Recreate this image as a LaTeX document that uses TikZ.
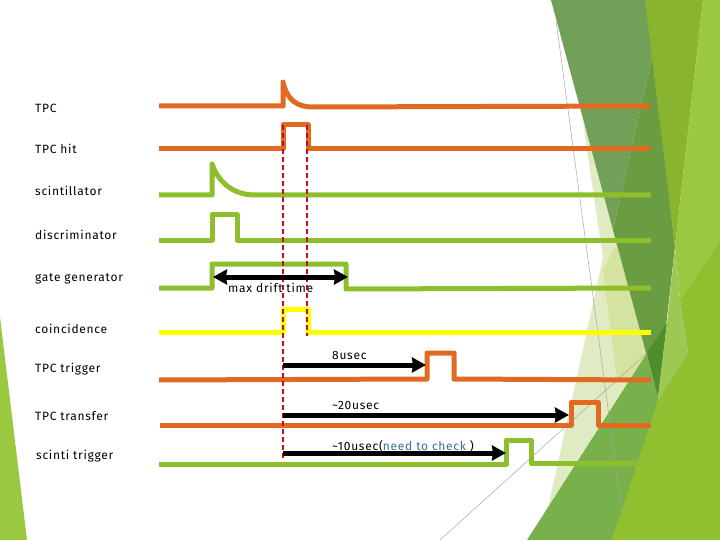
\documentclass[tikz,border=0pt]{standalone}
\usepackage{fontspec}
\setmainfont[LetterSpace=6]{Fira Sans}
\usetikzlibrary{positioning,arrows.meta,calc}
\definecolor{sigorange}{RGB}{226,106,32}
\definecolor{siggreen}{RGB}{142,190,44}
\definecolor{sigyellow}{RGB}{255,255,0}
\definecolor{cutred}{RGB}{192,16,32}
\definecolor{notblue}{RGB}{50,115,150}
\definecolor{bgdark}{RGB}{106,156,66}
\definecolor{bgtop}{RGB}{114,160,88}
\definecolor{bgwedge}{RGB}{136,180,48}
\definecolor{bglight}{RGB}{154,200,64}
\definecolor{bgband}{RGB}{156,200,84}
\definecolor{bgbright}{RGB}{144,192,48}
\definecolor{bgmid}{RGB}{120,176,76}
\definecolor{bgdeep}{RGB}{78,142,44}
\definecolor{bgpale}{RGB}{224,235,196}
\definecolor{bgpaler}{RGB}{212,228,160}
\tikzset{
  siglabel/.style={anchor=west, inner sep=0pt, font=\fontsize{12}{14}\selectfont},
  arrowlabel/.style={anchor=west, inner sep=0pt, font=\fontsize{12}{14}\selectfont},
  signal/.style={line width=5pt, line join=round},
  tpcsig/.style={signal, sigorange},
  scisig/.style={signal, siggreen},
  coinsig/.style={signal, sigyellow},
  cutline/.style={cutred, line width=1.8pt, dash pattern=on 5pt off 3pt},
  timearrow/.style={-{Stealth[length=14pt,width=15pt,inset=1pt]}, line width=5pt, black},
  gridline/.style={black!35, line width=0.5pt}
}
\begin{document}
\begin{tikzpicture}[x=1pt,y=-1pt]
    \useasboundingbox (0,0) rectangle (720,540);
    % backdrop
    \fill[bglight] (0,317) -- (27,540) -- (0,540) -- cycle;
    \fill[bgpale] (583,120) -- (647,353) -- (548,508) -- (603,258) -- (587,150) -- cycle;
    \fill[bgpaler] (617,243) -- (603,270) -- (617,380) -- (628,383) -- (647,353) -- cycle;
    \fill[bgtop] (551,0) -- (645,0) -- (653,53) -- (613,230) -- cycle;
    \fill[bgdark] (653,53) -- (675,247) -- (658,397) -- (613,230) -- cycle;
    \fill[bgwedge] (645,0) -- (703,0) -- (675,247) -- cycle;
    \fill[bglight] (703,0) -- (720,0) -- (720,240) -- (680,300) -- (675,247) -- cycle;
    \fill[bgmid] (527,540) -- (647,353) -- (658,397) -- (660,400) -- (612,540) -- cycle;
    \fill[bgdeep] (667,323) -- (647,353) -- (658,397) -- cycle;
    \fill[bgband] (675,247) -- (680,300) -- (688,353) -- (658,400) -- (658,397) -- (667,323) -- cycle;
    \fill[bgbright] (612,540) -- (658,400) -- (688,353) -- (680,300) -- (720,240) -- (720,540) -- cycle;
    \coordinate (gridA) at (556,20);
    \coordinate (gridB) at (622,513);
    \coordinate (gridC) at (440,540);
    \coordinate (gridD) at (647,353);
    \draw[gridline] (gridA) -- (gridB);
    \draw[gridline] (gridC) -- (gridD);
    % signals
    \draw[tpcsig] (159,106) -- (283,106) -- (283,82) .. controls (287,100) and (297,107) .. (313,107) -- (651,106);
    \draw[tpcsig] (159,149) -- (283,149) -- (283,125) -- (308,125) -- (308,149) -- (651,149);
    \draw[scisig] (159,195) -- (212,195) -- (212,164) .. controls (219,184) and (235,195) .. (255,195) -- (651,195);
    \draw[scisig] (159,240) -- (212,240) -- (212,215) -- (237,215) -- (237,240) -- (651,240);
    \draw[scisig] (159,288) -- (212,288) -- (212,264) -- (346,264) -- (346,289) -- (651,288);
    \draw[coinsig] (159,332) -- (283,332) -- (283,309) -- (308,309) -- (308,332) -- (651,332);
    \draw[tpcsig] (159,380) -- (427,379) -- (427,353) -- (454,353) -- (454,379) -- (651,380);
    \draw[tpcsig] (160,425) -- (571,425) -- (571,402) -- (598,402) -- (598,425) -- (651,425);
    \draw[scisig] (159,464) -- (506,464) -- (506,440) -- (531,440) -- (531,463) -- (651,463);
    % row labels
    \node[siglabel] (lbtpc) at (35,108) {TPC};
    \node[siglabel] (lbhit) at (35,149) {TPC hit};
    \node[siglabel] (lbsci) at (35,191) {scintillator};
    \node[siglabel] (lbdis) at (35,235) {discriminator};
    \node[siglabel] (lbgate) at (35,279) {gate generator};
    \node[siglabel] (lbcoin) at (35,329) {coincidence};
    \node[siglabel] (lbtrig) at (35,369) {TPC trigger};
    \node[siglabel] (lbtrans) at (35,416) {TPC transfer};
    \node[siglabel] (lbscit) at (36,456) {scinti trigger};
    % time labels
    \node[arrowlabel] (lbdrift) at (228,288) {max drift time};
    \node[arrowlabel] (lbeight) at (332,355) {8usec};
    \node[arrowlabel] (lbtwenty) at (332,405) {\textasciitilde 20usec};
    \node[arrowlabel] (lbten) at (332,446) {\textasciitilde 10usec(\textcolor{notblue}{need to check} )};
    % cut lines and arrows
    \coordinate (cutAtop) at (283,125);
    \coordinate (cutAbot) at (283,458);
    \coordinate (cutBtop) at (307,125);
    \coordinate (cutBbot) at (307,336);
    \draw[cutline] (cutAtop) -- (cutAbot);
    \draw[cutline] (cutBtop) -- (cutBbot);
    \coordinate (driftA) at (213,277);
    \coordinate (driftB) at (348,277);
    \coordinate (eightA) at (283,365);
    \coordinate (eightB) at (426,365);
    \coordinate (twentyA) at (283,415);
    \coordinate (twentyB) at (569,415);
    \coordinate (tenA) at (283,453);
    \coordinate (tenB) at (506,453);
    \draw[timearrow, {Stealth[length=14pt,width=15pt,inset=1pt]}-{Stealth[length=14pt,width=15pt,inset=1pt]}] (driftA) -- (driftB);
    \draw[timearrow] (eightA) -- (eightB);
    \draw[timearrow] (twentyA) -- (twentyB);
    \draw[timearrow] (tenA) -- (tenB);
  \end{tikzpicture}
\end{document}
